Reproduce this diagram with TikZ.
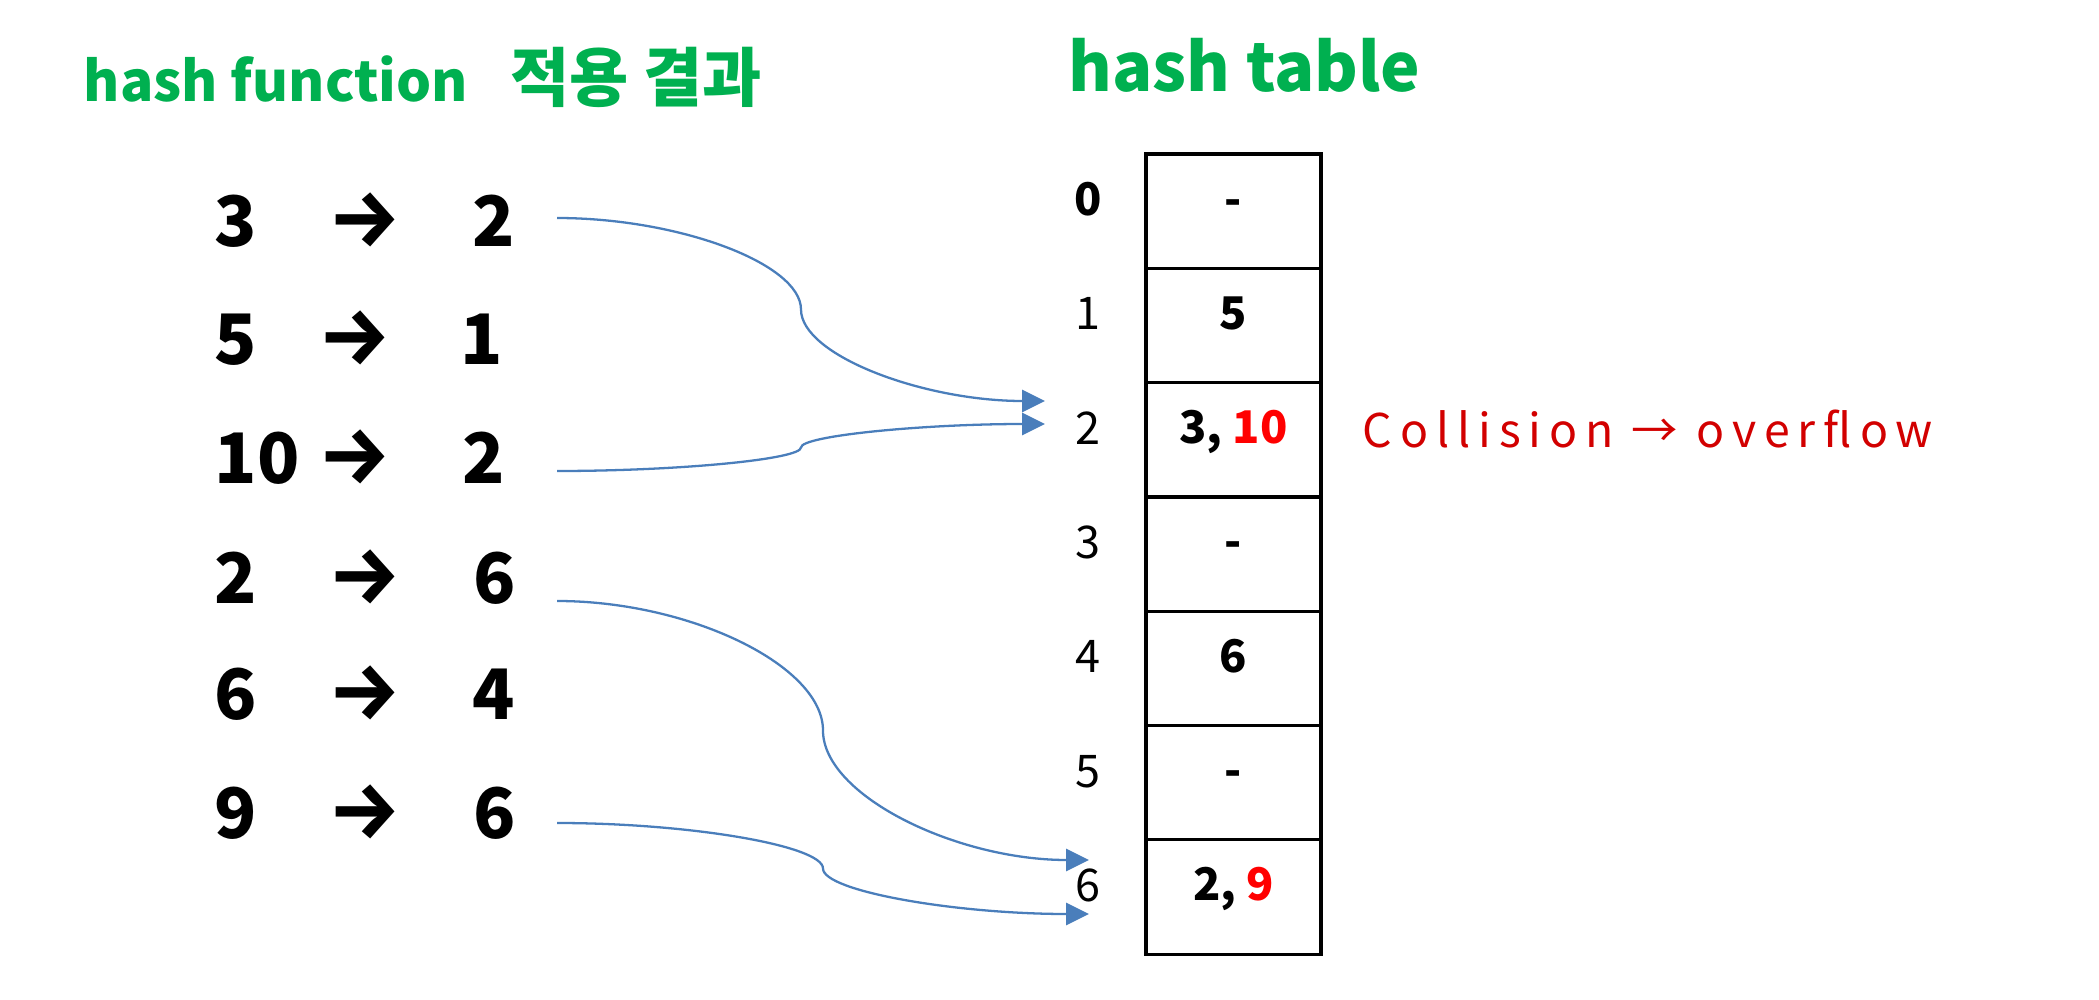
\documentclass[tikz,border=0pt]{standalone}
\usepackage{fontspec}
\setmainfont{Noto Sans CJK KR}
\newfontfamily\hand[LetterSpace=17]{Noto Sans CJK KR}
\newfontfamily\arrowfont{Fira Sans}
\usetikzlibrary{arrows.meta,calc}
\definecolor{tgreen}{HTML}{00B050}
\definecolor{connblue}{HTML}{4A7EBB}
\definecolor{hred}{HTML}{D20000}
\definecolor{vred}{HTML}{FF0000}
\tikzset{
  title/.style={anchor=base west, inner sep=0pt, text=tgreen, font=\fontsize{15.7}{20}\selectfont\bfseries},
  bigtitle/.style={anchor=base west, inner sep=0pt, text=tgreen, font=\fontsize{18.95}{24}\selectfont\bfseries},
  srcnum/.style={anchor=base west, inner sep=0pt, font=\fontsize{19.8}{24}\selectfont\bfseries},
  mapsym/.style={anchor=base, inner sep=0pt, font=\fontsize{23}{27}\selectfont\bfseries\arrowfont},
  resnum/.style={anchor=base, inner sep=0pt, font=\fontsize{19.8}{24}\selectfont\bfseries},
  cell/.style={draw=black, line width=0.9pt, inner xsep=0pt, inner ysep=0pt,
    minimum width=1.75cm, text height=17.36pt, text depth=15.17pt,
    font=\fontsize{12.8}{15}\selectfont\bfseries},
  idx/.style={anchor=base, inner sep=0pt, font=\fontsize{12.8}{15}\selectfont},
  note/.style={anchor=base west, inner sep=0pt, text=hred, font=\fontsize{13.2}{16}\selectfont\hand},
  conn/.style={draw=connblue, line width=0.65pt, -{Triangle[length=6.5pt,width=6.3pt]}}
}
\begin{document}
\begin{tikzpicture}[x=0.01cm,y=-0.01cm]
\useasboundingbox (0,0) rectangle (2099,1000);
% titles
\node[title] (t1) at (83,101) {hash function\hspace{12pt}{\fontsize{18.3}{22}\selectfont 적용 결과}};
\node[bigtitle] (t2) at (1068,91) {hash table};
% left mapping column
\node[srcnum] (a1) at (214,246) {3};
\node[mapsym] (m1) at (365,246) {→};
\node[resnum] (r1) at (494,246) {2};
\node[srcnum] (a2) at (214,364) {5};
\node[mapsym] (m2) at (355,364) {→};
\node[resnum] (r2) at (482,364) {1};
\node[srcnum] (a3) at (214,483) {10};
\node[mapsym] (m3) at (355,483) {→};
\node[resnum] (r3) at (484,483) {2};
\node[srcnum] (a4) at (214,603) {2};
\node[mapsym] (m4) at (365,603) {→};
\node[resnum] (r4) at (495,603) {6};
\node[srcnum] (a5) at (214,719) {6};
\node[mapsym] (m5) at (365,719) {→};
\node[resnum] (r5) at (494,719) {4};
\node[srcnum] (a6) at (214,838) {9};
\node[mapsym] (m6) at (365,838) {→};
\node[resnum] (r6) at (495,838) {6};
% hash table
\node[cell] (c0) at (1233.5,211.15) {-};
\node[cell] (c1) at (1233.5,325.45) {5};
\node[cell] (c2) at (1233.5,439.75) {3, \textcolor{vred}{10}};
\node[cell] (c3) at (1233.5,554.05) {-};
\node[cell] (c4) at (1233.5,668.35) {6};
\node[cell] (c5) at (1233.5,782.65) {-};
\node[cell] (c6) at (1233.5,896.95) {2, \textcolor{vred}{9}};
\node[idx,font=\fontsize{12.8}{15}\selectfont\bfseries] (i0) at (1088,215) {0};
\node[idx] (i1) at (1088,329) {1};
\node[idx] (i2) at (1088,444) {2};
\node[idx] (i3) at (1088,558) {3};
\node[idx] (i4) at (1088,672) {4};
\node[idx] (i5) at (1088,787) {5};
\node[idx] (i6) at (1088,901) {6};
% note
\node[note] (n1) at (1362,447) {Collision → overflow};
% connector endpoints
\coordinate (s1) at (557,218);
\coordinate (e1) at (1045,401);
\coordinate (s2) at (557,471);
\coordinate (e2) at (1045,424);
\coordinate (s3) at (557,601);
\coordinate (e3) at (1089,860);
\coordinate (s4) at (557,823);
\coordinate (e4) at (1089,914);
\foreach \a/\b in {s1/e1,s2/e2,s3/e3,s4/e4}{
  \draw[conn] let \p1=(\a), \p2=(\b) in (\a)
    .. controls ({(3*\x1+\x2)/4},\y1) and ({(\x1+\x2)/2},{(3*\y1+\y2)/4})
    .. ({(\x1+\x2)/2},{(\y1+\y2)/2})
    .. controls ({(\x1+\x2)/2},{(\y1+3*\y2)/4}) and ({(\x1+3*\x2)/4},\y2)
    .. (\b);
}
\end{tikzpicture}
\end{document}
